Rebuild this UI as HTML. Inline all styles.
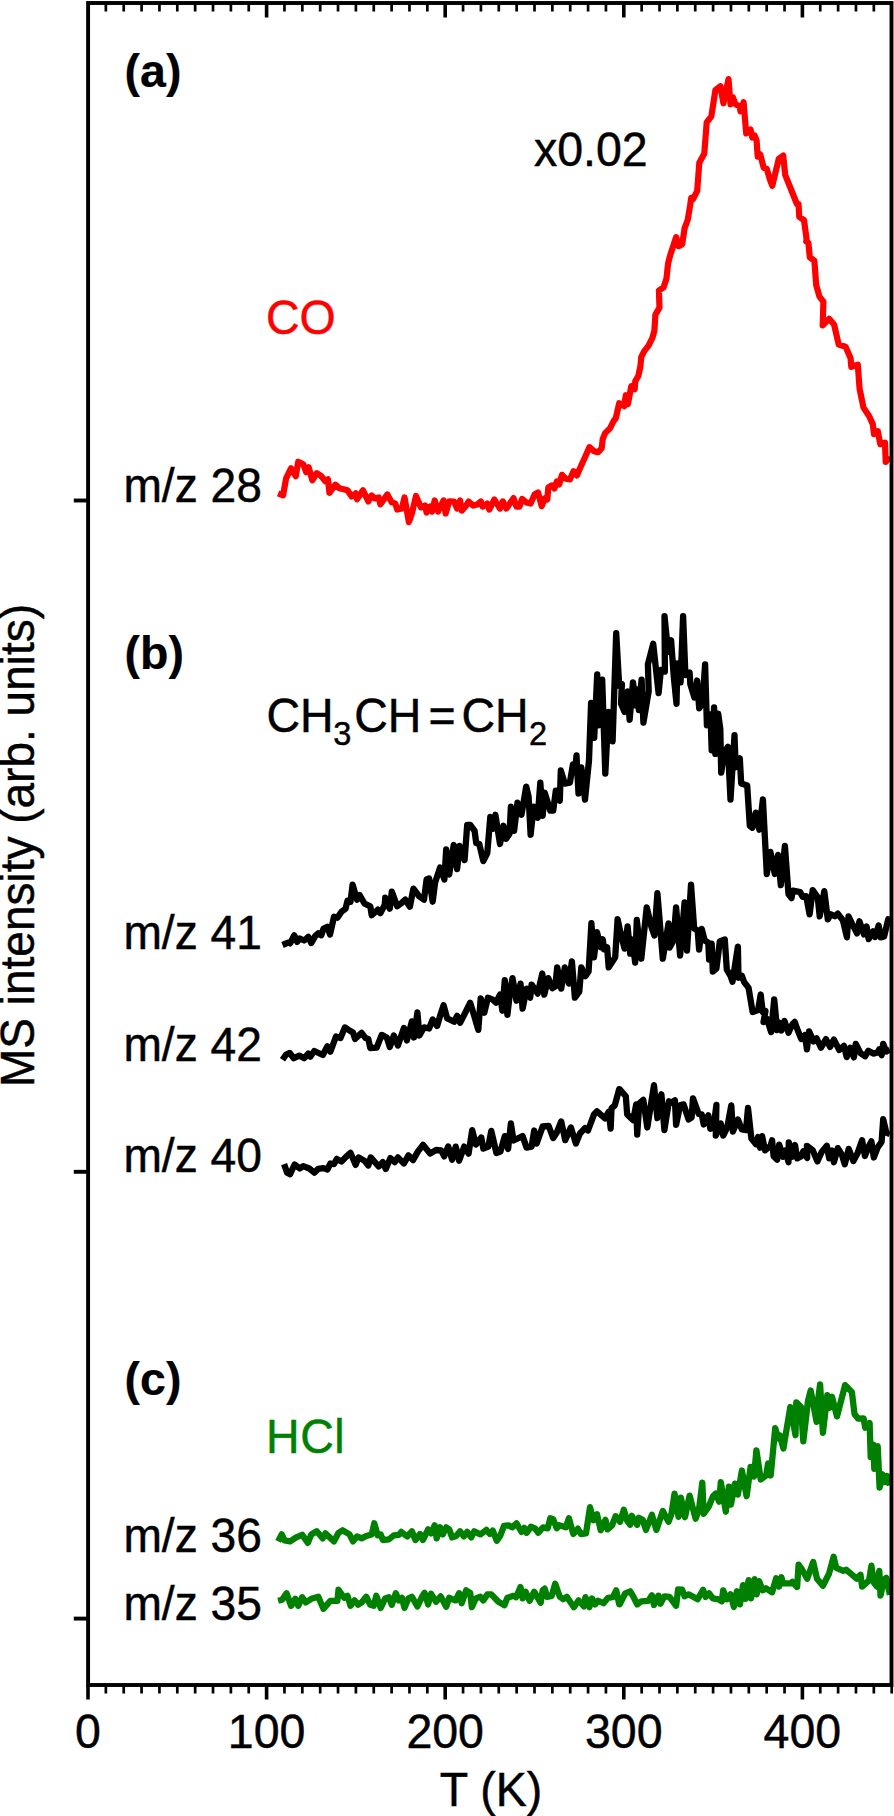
<!DOCTYPE html>
<html><head><meta charset="utf-8"><title>TPD spectra</title>
<style>
html,body{margin:0;padding:0;background:#fff;}
body{width:894px;height:1816px;overflow:hidden;}
svg{display:block;}
text{font-family:"Liberation Sans",sans-serif;font-size:46.5px;fill:#000;stroke:#000;stroke-width:0.45px;}
.b{font-weight:bold;font-size:46.5px;stroke-width:0.2px;}
.sub{font-size:32.5px;}
.ax{stroke:#000;stroke-width:3.9;fill:none;stroke-linecap:butt;}
.cv{fill:none;stroke-linejoin:round;stroke-linecap:butt;}
</style></head><body>
<svg width="894" height="1816" viewBox="0 0 894 1816">
<rect width="894" height="1816" fill="#fff"/>

<defs><clipPath id="clip"><rect x="88.1" y="3.0" width="803.4" height="1682.0"/></clipPath></defs>
<g clip-path="url(#clip)">
<polyline class="cv" stroke="#ff0000" stroke-width="6.2" points="278.1,493.4 283.1,495.4 286.1,478.3 291.1,468.2 295.8,476.2 298.2,461.7 303.2,464.2 306.2,472.2 308.7,467.2 312.3,480.3 316.7,473.2 321.3,476.2 325.4,481.3 328.0,479.3 329.4,492.8 335.4,484.7 339.5,488.3 343.5,489.3 347.5,490.3 351.5,496.4 355.6,493.4 357.0,499.4 363.0,490.3 368.3,501.4 371.7,495.4 374.7,498.4 378.7,497.4 380.3,504.4 387.4,494.4 391.8,502.4 395.2,503.4 397.2,509.5 401.9,508.5 404.5,497.4 408.9,522.1 411.9,513.5 416.0,496.0 421.0,507.4 425.0,505.4 426.6,512.5 430.1,506.4 432.1,511.5 434.7,500.4 438.1,511.5 443.6,500.4 445.6,513.5 449.2,501.4 454.1,501.5 457.1,508.6 460.1,500.5 461.7,510.6 466.2,505.6 468.6,501.5 473.2,505.6 477.2,504.6 480.9,501.5 482.7,506.6 487.3,503.6 489.3,509.6 494.4,499.5 500.0,508.6 502.8,501.5 506.4,508.6 510.5,502.6 513.5,498.1 516.5,506.6 519.5,506.6 522.1,498.9 526.6,502.6 530.6,503.6 534.6,494.5 538.1,492.5 541.7,506.2 544.7,498.5 547.3,499.5 548.3,487.4 551.7,485.4 554.4,488.5 556.8,481.4 559.2,484.4 562.0,474.8 565.8,478.8 569.9,479.4 573.5,471.3 576.9,475.4 580.9,466.3 585.0,457.2 589.4,447.2 594.0,451.2 598.1,452.2 601.7,448.2 602.7,439.1 605.1,433.1 610.1,428.1 613.6,421.0 615.8,418.3 619.2,403.2 624.2,406.2 625.8,395.2 627.9,404.2 631.3,386.1 634.7,389.1 635.3,381.1 638.3,376.0 640.3,367.0 641.3,356.9 644.4,350.9 648.4,345.8 652.4,337.8 654.4,330.7 655.4,314.6 659.5,307.6 658.9,290.5 663.5,287.4 666.5,278.4 668.1,263.3 670.5,254.2 676.2,237.1 678.6,246.2 682.2,244.2 684.6,228.1 687.7,220.0 690.2,205.0 691.2,197.9 693.2,198.9 697.2,190.9 699.3,162.7 704.3,153.6 706.7,122.4 711.3,116.4 715.4,90.2 720.4,86.2 723.4,103.3 728.5,79.1 730.5,104.3 732.9,97.2 735.5,104.3 739.5,106.3 740.5,111.3 743.6,102.3 746.2,133.5 750.6,129.5 752.2,137.5 754.6,135.5 756.6,140.5 757.7,156.6 760.3,154.6 763.7,167.7 766.7,168.7 769.7,178.8 772.3,185.8 778.8,158.7 783.2,155.6 785.2,174.8 796.9,204.0 798.5,204.0 799.3,217.0 804.0,220.1 806.6,239.2 806.2,241.5 808.4,242.9 809.8,257.2 814.4,260.8 816.2,285.2 819.5,296.6 823.4,301.6 822.7,325.3 829.1,318.8 834.1,324.5 838.7,344.6 845.6,346.7 850.6,358.2 851.3,366.8 857.8,364.6 859.6,389.0 863.5,407.6 869.2,416.2 872.8,424.1 874.0,434.1 877.8,431.2 880.3,444.1 885.0,442.7 885.7,462.0 889.3,456.3"/>
<polyline class="cv" stroke="#000" stroke-width="6.3" points="282.5,945.0 288.1,942.6 290.1,943.4 294.2,935.3 297.2,941.9 299.8,938.5 304.2,940.5 308.3,936.9 311.3,943.0 315.3,935.9 318.3,933.3 321.3,935.3 323.4,928.9 327.4,926.8 330.0,934.5 334.0,916.8 337.4,917.8 341.5,911.7 345.5,908.7 347.5,900.7 350.5,901.7 352.6,884.6 357.0,899.7 359.6,895.0 364.6,903.7 370.3,906.3 371.7,915.2 377.7,909.7 380.3,913.2 384.8,904.7 385.2,897.7 389.8,908.7 391.8,891.6 397.2,906.3 401.9,902.7 405.3,899.7 409.9,906.7 413.4,888.6 419.0,896.2 424.0,899.7 426.6,879.5 429.1,878.5 432.7,901.7 435.1,882.6 440.1,867.4 444.4,879.5 446.2,849.3 449.2,874.5 453.7,845.0 457.1,869.1 459.7,846.0 464.6,860.1 467.2,824.8 470.2,824.8 474.6,830.9 476.2,843.0 479.3,844.0 483.3,861.1 487.3,853.0 490.3,816.8 492.8,828.9 495.4,814.8 500.0,844.0 503.4,825.8 506.0,838.9 509.5,833.9 510.9,806.7 514.1,830.9 517.5,802.7 521.5,814.8 526.2,786.6 528.6,796.6 530.6,834.9 533.6,806.7 537.7,817.8 540.3,782.6 542.7,815.8 544.7,792.6 550.3,810.7 553.2,810.7 555.8,790.6 559.8,800.7 560.8,770.5 564.8,783.6 569.9,782.6 572.9,764.4 575.3,769.5 576.5,755.4 578.5,793.6 581.3,767.4 585.0,799.7 589.0,760.4 591.1,702.9 594.2,737.8 597.2,674.3 598.6,725.3 602.2,679.6 605.3,773.6 608.5,711.9 612.6,741.4 616.2,633.1 619.2,685.9 621.9,684.1 621.0,703.8 624.6,711.9 627.6,691.3 629.6,719.9 633.0,682.3 635.9,705.6 637.7,689.5 638.9,710.1 641.6,679.6 643.4,722.6 648.7,691.3 647.9,664.4 653.2,643.8 658.6,693.1 660.9,669.8 664.9,671.6 664.5,616.1 668.1,651.9 671.1,640.3 673.8,677.0 676.5,703.8 677.4,663.5 680.6,682.3 683.1,616.1 685.4,675.2 689.6,672.5 690.3,684.1 694.4,697.5 697.1,680.5 699.2,708.3 702.4,702.9 705.1,664.4 706.9,725.3 710.5,714.5 711.7,750.3 714.1,707.4 715.3,753.9 718.2,713.6 720.3,728.9 721.2,772.7 724.3,752.1 727.9,746.8 730.5,799.5 734.5,735.1 735.7,767.3 739.8,758.3 741.2,783.4 747.2,785.4 749.8,825.7 752.3,827.7 755.7,812.6 759.3,829.7 762.9,799.5 766.8,874.0 770.4,851.9 774.8,874.0 778.0,854.9 780.8,885.1 784.9,845.8 788.5,894.2 791.5,898.2 792.9,890.7 800.2,892.1 802.6,896.8 806.2,896.2 809.6,914.3 812.7,890.1 817.7,897.2 819.7,916.3 824.3,891.1 827.8,919.3 830.8,914.3 834.8,916.3 837.8,913.7 842.9,920.3 846.9,937.4 848.5,916.3 851.9,923.4 857.0,933.4 859.4,921.3 864.0,934.4 866.6,926.4 868.6,939.1 873.1,931.4 875.1,937.0 878.7,925.4 880.7,937.4 884.1,936.4 888.2,919.3 891.2,921.3"/>
<polyline class="cv" stroke="#000" stroke-width="6.3" points="282.5,1059.7 286.1,1054.6 289.7,1053.0 293.8,1058.3 299.2,1055.6 304.2,1058.3 308.3,1053.6 310.3,1056.6 314.3,1051.0 322.8,1055.0 327.4,1046.2 330.4,1051.6 336.0,1036.5 340.5,1038.1 344.9,1027.4 349.5,1030.5 353.0,1032.5 355.0,1038.9 361.6,1032.9 365.6,1038.1 368.3,1038.9 370.3,1048.2 376.7,1047.6 381.7,1034.9 386.8,1037.5 389.8,1047.0 393.8,1035.5 397.9,1045.6 403.9,1028.1 406.9,1040.5 411.9,1021.4 414.0,1037.5 417.4,1012.3 419.4,1035.5 424.0,1027.4 429.1,1028.5 432.7,1019.4 437.1,1026.0 440.7,1014.0 443.6,1005.3 447.2,1018.4 448.1,1018.8 454.1,1021.8 457.1,1015.8 460.1,1022.8 465.2,1012.8 470.2,1002.7 474.2,1015.8 478.3,1029.9 480.7,998.3 484.3,1012.8 487.9,997.7 492.8,999.7 496.0,1002.7 500.0,994.6 502.4,1010.7 504.8,980.1 507.4,1014.8 510.1,991.6 512.5,978.1 516.5,1000.7 520.5,983.6 522.6,1008.7 526.6,988.6 530.2,997.7 531.6,984.6 537.7,993.6 542.3,973.5 544.3,994.6 548.3,978.1 552.3,988.2 555.2,986.6 557.2,967.4 561.2,988.6 564.8,967.4 568.9,983.6 571.9,961.4 574.9,997.7 579.3,991.6 581.3,967.4 585.4,976.1 588.6,971.5 591.4,923.2 594.0,957.4 597.0,932.2 600.7,947.3 602.7,939.3 604.1,949.3 607.1,947.3 608.7,967.4 615.2,957.4 617.6,919.1 621.1,935.5 624.6,948.6 627.6,926.4 630.2,953.6 632.2,939.5 635.2,962.7 636.8,920.0 641.3,958.7 646.7,907.3 651.3,926.4 654.4,935.5 657.4,893.2 662.8,958.7 668.5,923.4 669.5,947.6 673.5,940.5 676.1,907.3 680.1,955.6 684.6,902.3 687.0,950.6 691.0,884.6 694.2,928.5 697.7,930.5 699.1,949.6 701.7,928.9 704.7,940.5 708.3,942.6 709.1,959.7 711.7,943.6 712.8,971.7 716.4,968.7 719.8,941.5 724.8,939.5 726.8,969.7 730.5,975.8 732.5,981.8 737.9,946.6 738.5,977.8 741.9,975.8 744.0,981.8 748.6,987.9 752.6,1012.0 758.1,1010.0 760.7,994.5 762.7,1012.0 765.5,1011.0 763.5,1022.1 767.1,1019.1 771.1,1032.1 774.2,999.3 777.2,1030.1 779.1,1022.6 781.4,1030.5 784.5,1021.1 788.5,1032.8 792.4,1024.2 794.7,1021.9 797.8,1030.5 801.3,1039.1 804.9,1035.2 806.9,1049.3 809.1,1031.3 813.5,1041.4 816.6,1038.3 821.0,1047.7 826.0,1039.1 830.0,1046.9 833.9,1039.6 839.3,1050.0 844.0,1045.8 846.7,1057.1 850.3,1047.7 853.9,1057.4 855.8,1043.8 860.5,1053.2 865.2,1056.3 868.3,1050.8 873.3,1053.6 877.7,1052.4 879.3,1049.3 881.6,1055.2 883.2,1043.8 886.3,1051.6 889.9,1049.3"/>
<polyline class="cv" stroke="#000" stroke-width="6.3" points="284.1,1164.1 287.1,1172.6 290.1,1174.2 294.6,1164.5 299.8,1168.5 303.2,1166.1 309.3,1168.5 314.3,1172.6 318.3,1168.9 323.4,1168.1 327.4,1169.5 330.4,1163.5 334.0,1164.1 336.8,1158.9 341.5,1161.5 345.5,1157.4 350.5,1152.8 355.6,1164.9 358.6,1157.4 364.6,1160.9 368.3,1165.5 370.7,1157.4 378.7,1166.5 382.8,1162.1 385.8,1168.9 390.4,1158.1 394.8,1162.1 397.9,1157.4 403.9,1163.5 408.5,1155.4 413.0,1160.1 418.0,1151.4 423.0,1144.8 430.1,1153.4 436.1,1150.0 441.1,1150.4 444.2,1156.4 448.2,1146.4 452.1,1159.7 455.7,1146.6 459.1,1160.7 464.2,1146.6 468.6,1153.6 472.2,1130.1 475.8,1144.6 481.3,1137.5 483.3,1148.6 488.3,1146.6 491.3,1130.9 496.4,1153.0 500.4,1151.6 504.8,1136.1 508.1,1149.0 510.9,1123.4 513.5,1140.5 522.6,1136.1 526.6,1147.6 531.6,1146.6 534.2,1130.5 536.6,1143.6 542.7,1126.4 548.7,1126.0 553.2,1138.1 556.8,1132.5 561.2,1121.4 565.2,1140.1 570.9,1127.4 575.9,1143.6 579.9,1133.5 585.0,1128.1 588.0,1130.5 594.0,1114.4 597.0,1111.3 605.1,1118.4 608.7,1111.9 610.7,1128.5 611.5,1108.3 614.8,1105.3 619.2,1089.2 619.7,1089.3 625.8,1096.3 627.2,1114.4 633.2,1120.1 636.2,1104.4 637.2,1134.6 639.3,1103.4 643.3,1099.9 647.3,1127.5 654.0,1085.2 657.4,1118.1 661.4,1094.3 664.4,1130.1 668.9,1101.3 671.5,1102.8 674.9,1100.3 676.1,1124.9 680.1,1105.4 683.6,1104.4 688.6,1119.5 691.6,1117.4 693.0,1098.3 698.7,1114.0 701.7,1114.4 703.7,1124.5 708.3,1115.4 710.3,1128.9 713.8,1125.5 716.4,1104.8 715.8,1135.6 720.8,1123.5 723.2,1135.6 727.2,1127.5 731.3,1105.4 732.9,1131.5 737.9,1119.5 741.9,1129.5 746.0,1130.1 748.0,1108.0 751.4,1138.6 756.0,1144.2 758.1,1137.0 760.1,1147.7 762.1,1136.2 765.1,1150.3 770.7,1145.6 772.1,1140.2 773.6,1156.3 777.2,1159.7 779.2,1144.6 783.0,1156.7 785.3,1150.5 788.5,1162.2 788.8,1142.3 792.4,1156.7 795.0,1145.0 797.1,1158.3 801.0,1156.4 803.3,1151.3 807.2,1158.0 806.9,1145.8 812.7,1150.2 817.4,1161.4 821.7,1152.0 826.8,1145.8 829.2,1158.3 832.0,1150.5 833.9,1162.2 837.8,1148.1 841.7,1154.4 844.8,1164.3 848.7,1148.9 853.4,1161.1 857.4,1153.6 862.1,1140.3 864.9,1156.0 868.3,1147.3 871.4,1141.4 873.8,1157.5 877.7,1147.3 881.6,1141.9 883.2,1119.1 886.3,1132.5 889.9,1134.0"/>
<polyline class="cv" stroke="#008000" stroke-width="6.3" points="278.1,1541.4 281.7,1534.4 284.5,1540.4 290.1,1541.4 296.2,1537.4 302.2,1534.8 307.9,1542.8 311.3,1534.4 316.7,1531.3 322.8,1538.4 325.4,1533.4 334.0,1541.4 338.5,1532.8 342.5,1530.3 349.5,1534.4 353.0,1541.4 357.0,1536.4 361.6,1538.4 366.2,1536.0 371.7,1534.4 374.3,1523.3 377.7,1535.4 380.7,1534.4 382.8,1540.0 388.8,1539.4 393.8,1535.4 398.9,1534.8 401.3,1531.9 407.3,1536.4 411.9,1531.3 415.4,1540.0 420.0,1534.0 423.0,1540.0 428.1,1529.3 431.1,1533.4 434.7,1525.3 436.7,1538.4 440.1,1527.3 442.8,1534.4 446.2,1527.3 449.2,1529.3 452.1,1537.4 456.1,1536.0 460.1,1531.3 463.8,1536.4 467.2,1531.9 471.2,1537.4 474.2,1531.3 480.3,1534.4 486.3,1529.9 489.9,1534.0 492.8,1530.7 496.8,1540.8 500.4,1535.4 504.0,1525.9 508.5,1525.3 512.1,1527.3 516.5,1523.3 521.5,1531.9 524.2,1527.9 526.6,1532.8 531.0,1526.7 535.0,1528.3 538.3,1532.8 543.1,1527.3 547.7,1528.3 550.3,1518.3 553.2,1519.3 556.8,1528.3 559.2,1525.3 565.8,1527.3 568.9,1518.3 573.3,1534.0 577.9,1528.7 580.9,1534.0 586.0,1533.4 590.0,1507.2 593.4,1520.3 597.0,1514.2 600.7,1530.3 605.5,1519.9 607.5,1529.3 612.1,1525.3 615.6,1516.2 619.2,1520.3 620.1,1521.8 623.8,1509.7 627.2,1520.8 630.2,1524.8 631.8,1515.8 637.2,1524.8 638.7,1517.8 642.7,1519.8 645.9,1529.9 651.9,1514.8 656.4,1529.9 662.8,1511.1 668.5,1521.8 671.5,1513.8 674.5,1493.6 678.5,1516.8 680.9,1497.7 685.0,1517.2 689.6,1495.6 695.6,1518.8 699.1,1508.7 702.3,1482.6 703.7,1513.8 708.7,1506.7 712.8,1496.6 715.8,1493.6 719.2,1501.7 720.8,1482.1 725.8,1511.7 728.9,1486.6 730.9,1504.7 734.9,1483.6 737.9,1494.6 741.9,1470.5 746.6,1496.2 750.6,1466.8 754.0,1476.5 756.4,1450.3 760.7,1479.5 766.1,1475.5 768.1,1463.4 770.7,1475.5 775.2,1428.2 778.2,1438.3 779.8,1435.2 783.4,1448.5 790.3,1407.0 795.5,1435.2 796.3,1402.3 801.0,1407.0 803.3,1441.4 808.0,1400.7 810.7,1390.5 816.6,1421.9 817.9,1401.5 820.1,1384.3 822.9,1432.8 827.3,1395.2 829.5,1407.8 832.0,1396.8 837.0,1416.4 845.1,1385.1 851.9,1392.1 854.5,1414.0 858.1,1418.7 863.6,1418.3 865.2,1427.7 869.6,1423.0 870.7,1457.1 873.3,1444.6 874.3,1468.8 877.7,1446.1 879.6,1487.6 882.4,1474.3 885.2,1482.1 887.1,1475.9 889.9,1485.3"/>
<polyline class="cv" stroke="#008000" stroke-width="6.3" points="278.1,1600.8 282.1,1599.8 286.5,1593.2 291.1,1605.8 295.2,1598.8 298.2,1605.8 302.2,1597.2 305.8,1602.4 311.3,1598.8 318.3,1596.8 323.4,1608.9 330.4,1600.8 337.4,1600.8 338.5,1589.7 344.1,1597.8 347.5,1595.8 350.5,1605.8 354.6,1600.4 358.2,1604.8 361.6,1602.4 366.2,1596.8 370.3,1604.8 373.7,1605.8 376.3,1595.8 380.7,1607.9 385.2,1598.4 388.8,1597.2 391.8,1604.8 395.8,1593.2 398.9,1600.4 401.9,1597.8 404.5,1607.9 408.5,1598.4 411.9,1596.8 417.4,1606.4 422.0,1596.8 424.6,1592.8 428.1,1604.4 431.1,1593.8 436.1,1601.8 440.7,1596.4 446.2,1606.8 449.2,1597.8 451.1,1598.8 455.7,1600.4 459.1,1593.2 461.7,1603.2 466.2,1590.3 470.2,1592.8 471.8,1607.2 475.8,1598.4 480.3,1596.8 483.3,1600.4 487.3,1594.4 491.3,1594.4 498.4,1601.8 504.4,1605.2 507.4,1597.8 513.5,1595.8 516.1,1597.2 520.5,1587.1 522.6,1598.4 525.6,1591.7 529.6,1600.8 534.2,1591.7 540.7,1602.8 542.7,1590.3 544.7,1588.7 547.1,1596.8 551.7,1595.8 555.2,1583.7 559.8,1596.8 563.2,1599.2 566.8,1596.8 573.9,1607.2 578.5,1600.4 584.0,1606.4 585.4,1597.2 589.4,1607.2 592.0,1598.4 595.0,1604.4 598.1,1600.8 603.5,1603.2 608.1,1597.8 612.8,1597.2 616.2,1590.3 619.2,1604.4 619.7,1604.4 625.2,1593.3 630.2,1591.3 633.2,1596.3 637.2,1604.4 641.3,1601.3 648.3,1600.9 651.9,1595.3 654.0,1605.0 658.4,1595.7 660.4,1603.8 664.4,1596.3 669.5,1596.9 676.1,1605.8 678.1,1589.3 682.1,1589.7 684.6,1596.3 688.6,1594.3 697.7,1599.3 703.1,1589.7 705.7,1596.9 709.1,1593.3 712.8,1598.3 718.8,1599.3 721.8,1601.3 723.2,1590.3 726.8,1599.3 730.5,1594.3 733.9,1607.0 736.9,1591.3 739.9,1604.4 743.0,1585.2 745.4,1598.9 748.6,1580.2 751.0,1598.3 754.6,1579.2 756.6,1594.3 759.1,1581.2 762.7,1590.3 766.1,1588.3 772.1,1592.3 776.2,1578.2 779.1,1586.6 781.4,1577.2 783.0,1583.4 790.8,1583.4 792.4,1581.9 797.1,1587.0 798.6,1564.6 801.0,1567.8 807.2,1578.7 813.2,1562.0 817.0,1578.7 822.9,1585.8 828.9,1574.0 833.6,1556.8 836.2,1567.8 843.3,1570.9 846.4,1569.8 856.6,1578.7 860.5,1574.8 862.1,1586.6 869.1,1580.3 871.4,1565.7 873.8,1582.6 876.9,1586.6 879.3,1570.9 880.5,1595.5 884.0,1579.5 886.3,1577.9 889.9,1594.9"/>
</g>
<rect class="ax" x="88.1" y="3.0" width="803.4" height="1682.0"/>
<path d="M105.86,3.0V11.4M105.86,1685.0V1693.6M123.72,3.0V11.4M123.72,1685.0V1693.6M141.58,3.0V11.4M141.58,1685.0V1693.6M159.44,3.0V11.4M159.44,1685.0V1693.6M177.30,3.0V11.4M177.30,1685.0V1693.6M195.16,3.0V11.4M195.16,1685.0V1693.6M213.02,3.0V11.4M213.02,1685.0V1693.6M230.88,3.0V11.4M230.88,1685.0V1693.6M248.74,3.0V11.4M248.74,1685.0V1693.6M284.46,3.0V11.4M284.46,1685.0V1693.6M302.32,3.0V11.4M302.32,1685.0V1693.6M320.18,3.0V11.4M320.18,1685.0V1693.6M338.04,3.0V11.4M338.04,1685.0V1693.6M355.90,3.0V11.4M355.90,1685.0V1693.6M373.76,3.0V11.4M373.76,1685.0V1693.6M391.62,3.0V11.4M391.62,1685.0V1693.6M409.48,3.0V11.4M409.48,1685.0V1693.6M427.34,3.0V11.4M427.34,1685.0V1693.6M463.06,3.0V11.4M463.06,1685.0V1693.6M480.92,3.0V11.4M480.92,1685.0V1693.6M498.78,3.0V11.4M498.78,1685.0V1693.6M516.64,3.0V11.4M516.64,1685.0V1693.6M534.50,3.0V11.4M534.50,1685.0V1693.6M552.36,3.0V11.4M552.36,1685.0V1693.6M570.22,3.0V11.4M570.22,1685.0V1693.6M588.08,3.0V11.4M588.08,1685.0V1693.6M605.94,3.0V11.4M605.94,1685.0V1693.6M641.66,3.0V11.4M641.66,1685.0V1693.6M659.52,3.0V11.4M659.52,1685.0V1693.6M677.38,3.0V11.4M677.38,1685.0V1693.6M695.24,3.0V11.4M695.24,1685.0V1693.6M713.10,3.0V11.4M713.10,1685.0V1693.6M730.96,3.0V11.4M730.96,1685.0V1693.6M748.82,3.0V11.4M748.82,1685.0V1693.6M766.68,3.0V11.4M766.68,1685.0V1693.6M784.54,3.0V11.4M784.54,1685.0V1693.6M820.26,3.0V11.4M820.26,1685.0V1693.6M838.12,3.0V11.4M838.12,1685.0V1693.6M855.98,3.0V11.4M855.98,1685.0V1693.6M873.84,3.0V11.4M873.84,1685.0V1693.6M891.70,1685.0V1693.6" stroke="#000" stroke-width="2.7" fill="none"/>
<path d="M88.00,1685.0V1699.6M266.60,3.0V17.4M266.60,1685.0V1699.6M445.20,3.0V17.4M445.20,1685.0V1699.6M623.80,3.0V17.4M623.80,1685.0V1699.6M802.40,3.0V17.4M802.40,1685.0V1699.6" stroke="#000" stroke-width="3.6" fill="none"/>
<path class="ax" d="M73.8,500.5H88.1"/>
<path class="ax" d="M73.8,1171.8H88.1"/>
<path class="ax" d="M73.8,1618.6H88.1"/>
<text transform="translate(88.0,1748) scale(1,1.04)" text-anchor="middle">0</text>
<text transform="translate(266.6,1748) scale(1,1.04)" text-anchor="middle">100</text>
<text transform="translate(445.2,1748) scale(1,1.04)" text-anchor="middle">200</text>
<text transform="translate(623.8,1748) scale(1,1.04)" text-anchor="middle">300</text>
<text transform="translate(802.4,1748) scale(1,1.04)" text-anchor="middle">400</text>
<text transform="translate(491,1806.4) scale(1,1.04)" text-anchor="middle">T (K)</text>
<text transform="translate(34.3,1087) rotate(-90) scale(1,1.04)" textLength="483" lengthAdjust="spacingAndGlyphs">MS intensity (arb. units)</text>
<text class="b" x="124.6" y="87.3">(a)</text>
<text class="b" x="124.6" y="668.5">(b)</text>
<text class="b" x="124.6" y="1395">(c)</text>
<text transform="translate(534,166) scale(1,1.04)">x0.02</text>
<text transform="translate(266,334) scale(1,1.04)" style="fill:#ff0000;stroke:#ff0000">CO</text>
<text transform="translate(266,1452.6) scale(1,1.04)" style="fill:#008000;stroke:#008000" letter-spacing="0.6">HCl</text>
<text transform="translate(123.4,502) scale(1,1.04)" textLength="138.5" lengthAdjust="spacingAndGlyphs">m/z 28</text>
<text transform="translate(123.4,948.7) scale(1,1.04)" textLength="138.5" lengthAdjust="spacingAndGlyphs">m/z 41</text>
<text transform="translate(123.4,1060.7) scale(1,1.04)" textLength="138.5" lengthAdjust="spacingAndGlyphs">m/z 42</text>
<text transform="translate(123.4,1172.4) scale(1,1.04)" textLength="138.5" lengthAdjust="spacingAndGlyphs">m/z 40</text>
<text transform="translate(123.4,1552.3) scale(1,1.04)" textLength="138.5" lengthAdjust="spacingAndGlyphs">m/z 36</text>
<text transform="translate(123.4,1619.6) scale(1,1.04)" textLength="138.5" lengthAdjust="spacingAndGlyphs">m/z 35</text>
<text transform="translate(0,731.6) scale(1,1.04)" y="0"><tspan x="266.5">CH</tspan><tspan class="sub" x="333.2" dy="13">3</tspan><tspan x="354.2" dy="-13">CH</tspan><tspan x="428.5">=</tspan><tspan x="461.5">CH</tspan><tspan class="sub" x="529" dy="13">2</tspan></text>
</svg></body></html>
